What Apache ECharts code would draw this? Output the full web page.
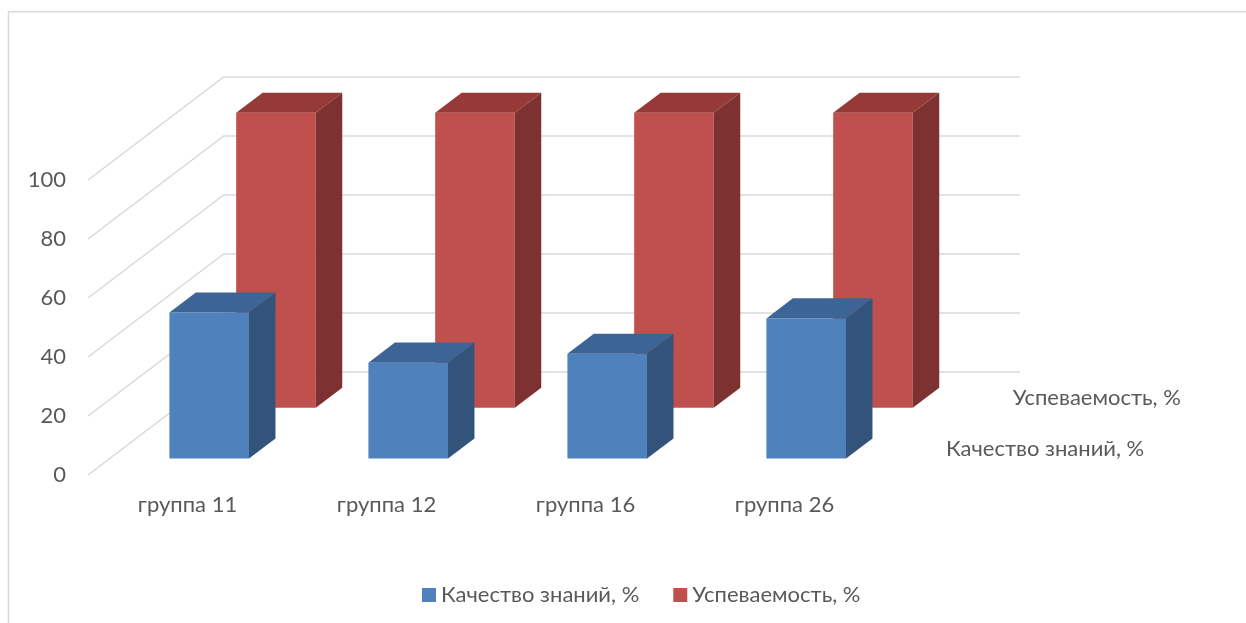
<!DOCTYPE html>
<html>
<head>
<meta charset="utf-8">
<script src="https://cdn.jsdelivr.net/npm/echarts@6/dist/echarts.min.js"></script>
<style>html,body{margin:0;padding:0;background:#fff}#chart{width:1246px;height:623px}</style>
</head>
<body>
<div id="chart"></div>
<script>
// ---- data ----
const categories = ['группа 11', 'группа 12', 'группа 16', 'группа 26'];
const seriesNames = ['Качество знаний, %', 'Успеваемость, %'];
const qualityValues = [49.5, 32.5, 35.5, 47.5];
const progressValues = [100, 100, 100, 100];
const yTicks = [0, 20, 40, 60, 80, 100];

// ---- styling / projection ----
const DX = 135.7, DY = -103;      // full depth vector of the floor (px)
const BAR_FRAC = 0.4;             // bar width as fraction of band
const FONT = 'Lato, "Open Sans", sans-serif';
const FS = 22;
const TXT = '#595959';
const GRIDC = '#D9D9D9';
const depthRows = [
  { d0: 0.16, d1: 0.355, front: '#4F81BD', top: '#3C6494', side: '#33547A' },
  { d0: 0.652, d1: 0.847, front: '#C0504D', top: '#953A37', side: '#7D3130' }
];

const chart = echarts.init(document.getElementById('chart'), null, { renderer: 'canvas' });

function gridRender(params, api) {
  const v = api.value(1);
  const band = api.size([1, 0])[0];
  const p0 = api.coord([0, v]);
  const p3 = api.coord([categories.length - 1, v]);
  const xL = p0[0] - band / 2, xR = p3[0] + band / 2;
  return {
    type: 'polyline',
    shape: { points: [[xL, p0[1]], [xL + DX, p0[1] + DY], [xR + DX, p0[1] + DY]] },
    style: { stroke: GRIDC, lineWidth: 1.5, fill: null }
  };
}

function barRender(rowIdx, name) {
  const r = depthRows[rowIdx];
  return function (params, api) {
    const ci = api.value(0), v = api.value(1);
    const c = api.coord([ci, 0]);
    const t = api.coord([ci, v]);
    const band = api.size([1, 0])[0];
    const w = band * BAR_FRAC;
    const x0 = c[0] - w / 2 + r.d0 * DX;
    const yb = c[1] + r.d0 * DY;
    const yt = t[1] + r.d0 * DY;
    const ddx = (r.d1 - r.d0) * DX, ddy = (r.d1 - r.d0) * DY;
    const children = [
      { type: 'polygon', shape: { points: [[x0, yt], [x0 + w, yt], [x0 + w, yb], [x0, yb]] },
        style: { fill: r.front } },
      { type: 'polygon', shape: { points: [[x0, yt], [x0 + ddx, yt + ddy], [x0 + w + ddx, yt + ddy], [x0 + w, yt]] },
        style: { fill: r.top } },
      { type: 'polygon', shape: { points: [[x0 + w, yt], [x0 + w + ddx, yt + ddy], [x0 + w + ddx, yb + ddy], [x0 + w, yb]] },
        style: { fill: r.side } }
    ];
    if (params.dataIndex === categories.length - 1) {
      const dm = (r.d0 + r.d1) / 2;
      const xR = c[0] + band / 2;
      children.push({
        type: 'text',
        style: {
          text: name, x: xR + dm * DX + 27, y: c[1] + dm * DY,
          fill: TXT, fontSize: FS, fontFamily: FONT, align: 'left', verticalAlign: 'middle'
        }
      });
    }
    return { type: 'group', children };
  };
}

const option = {
  animation: false,
  backgroundColor: '#fff',
  graphic: [{
    type: 'rect', silent: true, z: -10,
    shape: { x: 8.5, y: 11.7, width: 1300, height: 700 },
    style: { fill: null, stroke: GRIDC, lineWidth: 1.5 }
  }],
  grid: { left: 88, top: 180, width: 796, height: 295, containLabel: false },
  legend: {
    left: 417, top: 579, icon: 'rect', itemWidth: 14, itemHeight: 14, itemGap: 34,
    textStyle: { color: TXT, fontSize: FS, fontFamily: FONT },
    data: [
      { name: seriesNames[0], itemStyle: { color: depthRows[0].front } },
      { name: seriesNames[1], itemStyle: { color: depthRows[1].front } }
    ]
  },
  xAxis: {
    type: 'category', data: categories,
    axisLine: { show: false }, axisTick: { show: false }, splitLine: { show: false },
    axisLabel: { color: TXT, fontSize: FS, fontFamily: FONT, margin: 19, interval: 0 }
  },
  yAxis: {
    type: 'value', min: 0, max: 100, interval: 20,
    axisLine: { show: false }, axisTick: { show: false }, splitLine: { show: false },
    axisLabel: { color: TXT, fontSize: FS, fontFamily: FONT, margin: 22 }
  },
  series: [
    { type: 'custom', name: '_grid', silent: true, clip: false, z: 1,
      data: yTicks.map(v => [0, v]), renderItem: gridRender },
    { type: 'custom', name: seriesNames[0], clip: false, z: 4,
      itemStyle: { color: depthRows[0].front },
      data: qualityValues.map((v, i) => [i, v]), renderItem: barRender(0, seriesNames[0]) },
    { type: 'custom', name: seriesNames[1], clip: false, z: 3,
      itemStyle: { color: depthRows[1].front },
      data: progressValues.map((v, i) => [i, v]), renderItem: barRender(1, seriesNames[1]) }
  ]
};
chart.setOption(option);
</script>
</body>
</html>
